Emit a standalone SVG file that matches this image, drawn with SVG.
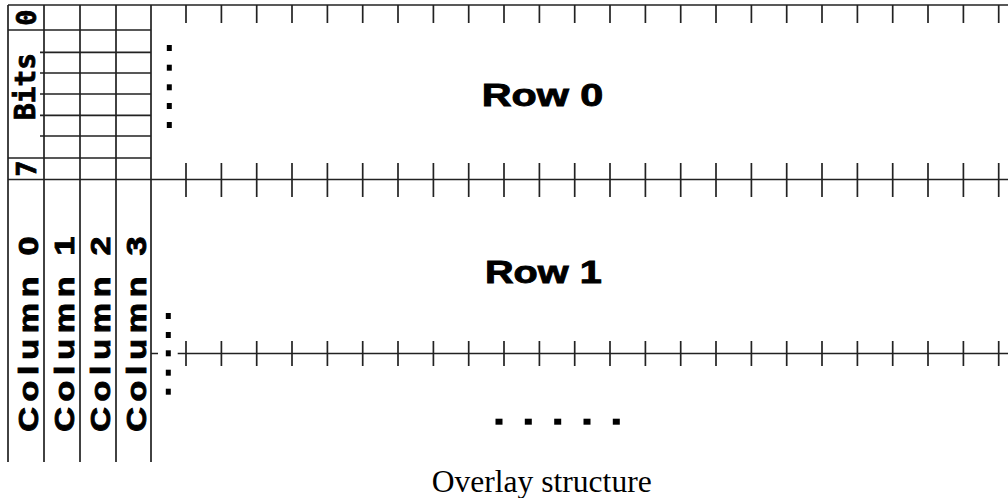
<svg xmlns="http://www.w3.org/2000/svg" width="1008" height="498" viewBox="0 0 1008 498">
  <defs>
    <style>
      .ln { stroke: #222; stroke-width: 1.7; fill: none; }
      .mono { font-family: "DejaVu Sans Mono", "Liberation Mono", monospace; font-weight: bold; fill: #000; stroke: #000; stroke-width: 0.8; }
      .bold { font-family: "Liberation Sans", Arial, sans-serif; font-weight: bold; fill: #000; stroke: #000; stroke-width: 0.9; }
      .cap { font-family: "Liberation Serif", "Times New Roman", serif; fill: #000; font-size: 31.5px; }
      .dot { fill: #000; }
    </style>
    <!-- tick patterns: top edge, middle line, lower line -->
    <path id="tickTop" class="ln" d="M0 5V23"/>
    <path id="tickMid" class="ln" d="M0 163V197"/>
    <path id="tickLow" class="ln" d="M0 341V366"/>
  </defs>
  <rect width="1008" height="498" fill="#fff"/>

  <!-- grid frame and ruled lines -->
  <g id="connectors">
    <!-- long horizontals -->
    <path class="ln" d="M8 5H1008"/>
    <path class="ln" d="M8 179.5H1008"/>
    <path class="ln" d="M151 353.5H158M177.7 353.5H1008"/>
    <!-- column verticals -->
    <path class="ln" d="M8 5V462M44 5V462M80 5V462M116 5V462M151 5V462"/>
    <!-- bit rows -->
    <path class="ln" d="M8 30H151M8 158H151"/>
    <path class="ln" d="M40 52.3H151M40 73H151M40 94H151M40 115.3H151M40 136H151"/>
    <!-- ticks -->
    <g id="ticks">
      <use href="#tickTop" x="186.0"/><use href="#tickTop" x="221.4"/><use href="#tickTop" x="256.7"/><use href="#tickTop" x="292.0"/>
      <use href="#tickTop" x="327.4"/><use href="#tickTop" x="362.7"/><use href="#tickTop" x="398.0"/><use href="#tickTop" x="433.4"/>
      <use href="#tickTop" x="468.7"/><use href="#tickTop" x="504.0"/><use href="#tickTop" x="539.4"/><use href="#tickTop" x="574.7"/>
      <use href="#tickTop" x="610.0"/><use href="#tickTop" x="645.4"/><use href="#tickTop" x="680.7"/><use href="#tickTop" x="716.0"/>
      <use href="#tickTop" x="751.4"/><use href="#tickTop" x="786.7"/><use href="#tickTop" x="822.0"/><use href="#tickTop" x="857.4"/>
      <use href="#tickTop" x="892.7"/><use href="#tickTop" x="928.0"/><use href="#tickTop" x="963.4"/><use href="#tickTop" x="998.7"/>

      <use href="#tickMid" x="186.0"/><use href="#tickMid" x="221.4"/><use href="#tickMid" x="256.7"/><use href="#tickMid" x="292.0"/>
      <use href="#tickMid" x="327.4"/><use href="#tickMid" x="362.7"/><use href="#tickMid" x="398.0"/><use href="#tickMid" x="433.4"/>
      <use href="#tickMid" x="468.7"/><use href="#tickMid" x="504.0"/><use href="#tickMid" x="539.4"/><use href="#tickMid" x="574.7"/>
      <use href="#tickMid" x="610.0"/><use href="#tickMid" x="645.4"/><use href="#tickMid" x="680.7"/><use href="#tickMid" x="716.0"/>
      <use href="#tickMid" x="751.4"/><use href="#tickMid" x="786.7"/><use href="#tickMid" x="822.0"/><use href="#tickMid" x="857.4"/>
      <use href="#tickMid" x="892.7"/><use href="#tickMid" x="928.0"/><use href="#tickMid" x="963.4"/><use href="#tickMid" x="998.7"/>

      <use href="#tickLow" x="186.0"/><use href="#tickLow" x="221.4"/><use href="#tickLow" x="256.7"/><use href="#tickLow" x="292.0"/>
      <use href="#tickLow" x="327.4"/><use href="#tickLow" x="362.7"/><use href="#tickLow" x="398.0"/><use href="#tickLow" x="433.4"/>
      <use href="#tickLow" x="468.7"/><use href="#tickLow" x="504.0"/><use href="#tickLow" x="539.4"/><use href="#tickLow" x="574.7"/>
      <use href="#tickLow" x="610.0"/><use href="#tickLow" x="645.4"/><use href="#tickLow" x="680.7"/><use href="#tickLow" x="716.0"/>
      <use href="#tickLow" x="751.4"/><use href="#tickLow" x="786.7"/><use href="#tickLow" x="822.0"/><use href="#tickLow" x="857.4"/>
      <use href="#tickLow" x="892.7"/><use href="#tickLow" x="928.0"/><use href="#tickLow" x="963.4"/><use href="#tickLow" x="998.7"/>
    </g>
  </g>

  <!-- bit index header -->
  <g id="bits">
    <text class="mono" font-size="27" transform="translate(35.5 17.5) rotate(-90)" text-anchor="middle">0</text>
    <text class="mono" font-size="28" transform="translate(35 86.5) rotate(-90)" text-anchor="middle" textLength="67" lengthAdjust="spacingAndGlyphs">Bits</text>
    <text class="mono" font-size="27" transform="translate(35.5 168.5) rotate(-90)" text-anchor="middle">7</text>
  </g>

  <!-- column labels: widened glyphs with a little extra tracking -->
  <g id="column0"><text class="bold" font-size="28" transform="translate(37.5 431.7) rotate(-90) scale(1.22 1)" textLength="160" lengthAdjust="spacing">Column 0</text></g>
  <g id="column1"><text class="bold" font-size="28" transform="translate(73.5 431.7) rotate(-90) scale(1.22 1)" textLength="160" lengthAdjust="spacing">Column 1</text></g>
  <g id="column2"><text class="bold" font-size="28" transform="translate(109.5 431.7) rotate(-90) scale(1.22 1)" textLength="160" lengthAdjust="spacing">Column 2</text></g>
  <g id="column3"><text class="bold" font-size="28" transform="translate(145.5 431.7) rotate(-90) scale(1.22 1)" textLength="160" lengthAdjust="spacing">Column 3</text></g>

  <!-- row 0 -->
  <g id="row0">
    <text class="bold" font-size="32" x="481.7" y="106" textLength="121.6" lengthAdjust="spacingAndGlyphs">Row 0</text>
    <rect class="dot" x="166.8" y="45" width="5" height="6"/>
    <rect class="dot" x="166.8" y="64.7" width="5" height="6"/>
    <rect class="dot" x="166.8" y="84.3" width="5" height="6"/>
    <rect class="dot" x="166.8" y="103" width="5" height="6"/>
    <rect class="dot" x="166.8" y="122" width="5" height="6"/>
  </g>

  <!-- row 1 -->
  <g id="row1">
    <text class="bold" font-size="32" x="485" y="283.3" textLength="116.7" lengthAdjust="spacingAndGlyphs">Row 1</text>
    <rect class="dot" x="165.8" y="313" width="5" height="6"/>
    <rect class="dot" x="165.8" y="332" width="5" height="6"/>
    <rect class="dot" x="165.8" y="350.3" width="5" height="6"/>
    <rect class="dot" x="165.8" y="369.7" width="5" height="6"/>
    <rect class="dot" x="165.8" y="388.7" width="5" height="6"/>
  </g>

  <!-- further rows -->
  <g id="more-rows">
    <rect class="dot" x="495.5" y="418.7" width="7" height="6"/>
    <rect class="dot" x="524.8" y="418.7" width="7" height="6"/>
    <rect class="dot" x="554.2" y="418.7" width="7" height="6"/>
    <rect class="dot" x="583.5" y="418.7" width="7" height="6"/>
    <rect class="dot" x="612.8" y="418.7" width="7" height="6"/>
  </g>

  <text class="cap" x="431.7" y="491.7" textLength="220" lengthAdjust="spacingAndGlyphs">Overlay structure</text>
</svg>
